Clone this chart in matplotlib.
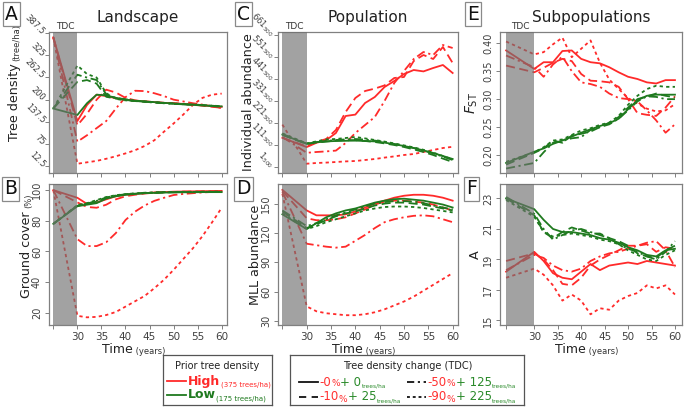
import numpy as np
import matplotlib.pyplot as plt

# time axis (years); subpopulation metrics start one year earlier
years = [25, 30, 32, 34, 36, 38, 40, 42, 44, 46, 48, 50, 52, 54, 56, 58, 60]
years_sub = [24, 30, 32, 34, 36, 38, 40, 42, 44, 46, 48, 50, 52, 54, 56, 58, 60]

# order inside each group: TDC 0%, 10%, 50%, 90%
tree_high = [
    [375, 140, 185, 214, 210, 204, 200, 197, 195, 193, 191, 190, 188, 186, 184, 182, 180],
    [375, 128, 160, 200, 228, 220, 205, 198, 195, 193, 191, 190, 188, 186, 183, 180, 177],
    [375, 82, 100, 120, 140, 175, 207, 225, 224, 218, 210, 200, 195, 190, 186, 181, 176],
    [375, 20, 24, 28, 34, 41, 49, 58, 70, 86, 110, 133, 158, 185, 205, 214, 217],
]
tree_low = [
    [175, 157, 190, 214, 212, 205, 200, 197, 195, 193, 191, 189, 187, 186, 184, 182, 181],
    [175, 250, 255, 245, 208, 203, 199, 196, 194, 192, 190, 189, 187, 185, 184, 182, 180],
    [175, 270, 262, 255, 215, 205, 201, 197, 194, 192, 190, 188, 187, 186, 185, 183, 181],
    [175, 296, 272, 262, 218, 202, 198, 196, 195, 193, 191, 189, 188, 186, 185, 183, 182],
]

cover_high = [
    [100, 95, 91, 92, 94, 96, 97, 97.5, 98, 98.5, 98.7, 99, 99.1, 99.2, 99.3, 99.4, 99.5],
    [100, 92, 89, 88.5, 90.5, 94, 96, 97, 97.8, 98.3, 98.6, 98.8, 99, 99.1, 99.2, 99.3, 99.4],
    [100, 68, 63.5, 63.5, 66, 72, 80.5, 86, 90, 93, 95, 96.8, 97.5, 98, 98.5, 98.8, 99],
    [100, 18, 17, 17.3, 18.5, 20.5, 24, 27.5, 31, 36, 41.5, 48, 55, 62, 70, 79, 88.5],
]
cover_low = [
    [78, 89.5, 90.5, 91.5, 94.5, 96, 97, 97.5, 98, 98.2, 98.4, 98.5, 98.6, 98.6, 98.7, 98.7, 98.7],
    [78, 89.8, 91, 92.5, 95, 96.3, 97.2, 97.7, 98.1, 98.3, 98.5, 98.6, 98.7, 98.7, 98.8, 98.8, 98.8],
    [78, 90, 91.2, 93, 95.2, 96.5, 97.3, 97.8, 98.2, 98.4, 98.6, 98.7, 98.8, 98.8, 98.9, 98.9, 98.9],
    [78, 90.2, 91.5, 93.5, 95.5, 96.7, 97.4, 97.9, 98.3, 98.5, 98.7, 98.8, 98.9, 98.9, 99, 99, 99],
]

abund_high = [
    [146000, 99600, 121000, 134000, 170000, 255000, 262000, 320000, 350000, 400000, 430000, 465000, 485000, 478000, 495000, 510000, 470000],
    [146000, 103000, 125000, 140000, 185000, 275000, 345000, 380000, 392000, 408000, 445000, 450000, 530000, 560000, 540000, 600000, 520000],
    [150000, 71000, 75000, 78000, 82000, 120000, 170000, 210000, 250000, 330000, 420000, 480000, 540000, 575000, 560000, 610000, 595000],
    [212000, 16500, 20000, 22000, 25000, 28000, 30000, 35000, 40000, 47000, 53000, 60000, 65000, 75000, 85000, 95000, 101000],
]
abund_low = [
    [162000, 116000, 125000, 128000, 130000, 131000, 132000, 130000, 128000, 122000, 114000, 105000, 95000, 83000, 70000, 55000, 40000],
    [160000, 115000, 122000, 127000, 132000, 135000, 134000, 130000, 125000, 118000, 110000, 100000, 88000, 75000, 60000, 42000, 25000],
    [165000, 117000, 124000, 130000, 135000, 138000, 140000, 137000, 132000, 125000, 115000, 105000, 95000, 82000, 68000, 52000, 35000],
    [168000, 118000, 128000, 138000, 140000, 145000, 150000, 143000, 135000, 127000, 118000, 108000, 98000, 86000, 72000, 55000, 38000],
]

mll_high = [
    [164, 143, 138, 138, 138, 139, 142, 146, 150, 153, 156, 158, 159, 159, 158, 156, 153],
    [163, 135, 133, 133, 134, 136, 140, 144, 149, 152, 153, 153, 152, 151, 149, 146, 143],
    [162, 109, 107.5, 106, 105, 106, 112, 118, 125, 131, 134, 136, 137.5, 138, 137, 134, 131],
    [160, 45, 40, 38, 37, 36, 36, 37, 39, 42, 46, 50, 55, 61, 67, 73, 79],
]
mll_low = [
    [139, 124, 130, 136, 140, 143, 145, 148, 151, 153, 154.5, 155, 154, 153, 151, 149, 146],
    [142, 125, 129, 133, 137, 140, 142, 145, 148, 150, 151, 151, 150, 149, 147, 145, 143],
    [143, 127, 130, 134, 138, 141, 144, 147, 150, 151.5, 152.5, 152.5, 152, 150.5, 148, 146, 144],
    [140, 124, 127, 131, 134, 137, 140, 143, 145, 146.5, 147, 147, 146.5, 145.5, 144, 142.5, 141],
]

fst_high = [
    [0.387, 0.354, 0.366, 0.366, 0.386, 0.387, 0.372, 0.366, 0.364, 0.357, 0.348, 0.340, 0.336, 0.330, 0.328, 0.334, 0.334],
    [0.360, 0.348, 0.356, 0.365, 0.372, 0.368, 0.345, 0.333, 0.332, 0.330, 0.322, 0.300, 0.275, 0.272, 0.270, 0.285, 0.305],
    [0.378, 0.357, 0.340, 0.362, 0.376, 0.350, 0.330, 0.327, 0.322, 0.310, 0.302, 0.300, 0.296, 0.280, 0.262, 0.240, 0.255],
    [0.403, 0.380, 0.384, 0.398, 0.410, 0.375, 0.390, 0.405, 0.365, 0.335, 0.318, 0.302, 0.292, 0.283, 0.278, 0.280, 0.291],
]
fst_low = [
    [0.186, 0.206, 0.212, 0.220, 0.226, 0.233, 0.240, 0.246, 0.252, 0.257, 0.265, 0.282, 0.298, 0.306, 0.308, 0.308, 0.308],
    [0.183, 0.204, 0.212, 0.226, 0.222, 0.235, 0.238, 0.242, 0.250, 0.258, 0.268, 0.285, 0.300, 0.305, 0.310, 0.306, 0.303],
    [0.176, 0.186, 0.205, 0.222, 0.225, 0.230, 0.232, 0.245, 0.250, 0.255, 0.265, 0.280, 0.296, 0.305, 0.304, 0.300, 0.300],
    [0.188, 0.205, 0.214, 0.226, 0.228, 0.236, 0.244, 0.248, 0.254, 0.258, 0.270, 0.290, 0.306, 0.318, 0.324, 0.322, 0.322],
]

rich_high = [
    [18.2, 19.5, 18.9, 18.1, 17.8, 17.7, 18.2, 18.7, 18.3, 18.6, 18.7, 18.8, 18.7, 18.9, 18.8, 18.7, 18.6],
    [18.9, 19.4, 19.0, 18.3, 17.4, 17.3, 17.8, 18.6, 19.0, 19.3, 19.6, 19.9, 19.9, 20.0, 19.5, 19.8, 19.7],
    [18.3, 19.3, 19.1, 18.6, 18.3, 18.2, 18.4, 18.9, 19.2, 19.4, 19.5, 19.7, 19.9, 20.1, 20.2, 19.6, 18.5],
    [17.8, 18.4, 18.0, 17.3, 16.3, 16.7, 16.3, 15.4, 15.8, 15.7, 16.3, 16.6, 16.8, 17.3, 17.1, 17.3, 16.7],
]
rich_low = [
    [23.0, 22.3, 21.6, 21.0, 20.8, 20.8, 20.7, 20.6, 20.4, 20.3, 20.1, 19.8, 19.6, 19.3, 19.2, 19.6, 19.7],
    [23.0, 21.9, 20.8, 20.4, 20.8, 21.1, 20.9, 20.7, 20.7, 20.4, 20.2, 19.9, 19.4, 19.2, 19.1, 19.6, 19.9],
    [23.1, 22.0, 21.0, 20.3, 20.6, 20.9, 21.0, 20.8, 20.6, 20.4, 20.0, 19.7, 19.5, 19.2, 19.0, 19.5, 20.2],
    [22.9, 21.8, 20.8, 20.5, 20.6, 20.7, 20.6, 20.5, 20.3, 20.2, 20.0, 19.6, 19.3, 19.0, 18.9, 19.3, 19.6],
]

tree_ticks = [12.5, 75, 137.5, 200, 262.5, 325, 387.5]
abund_ticks = [1500, 111500, 221500, 331500, 441500, 551500, 661500]

RED = '#ff2a2a'
GREEN = '#1f7a1f'
GREY = '#707070'
styles = ['-', (0, (5, 2.5)), (0, (5, 2, 1.2, 2)), (0, (1.8, 1.8))]

plt.rcParams['font.family'] = 'DejaVu Sans'
fig = plt.figure(figsize=(6.85, 4.08), dpi=100)

W, H = 685.0, 408.0


def make_ax(x0, x1, y0, y1):
    return fig.add_axes([x0 / W, 1 - y1 / H, (x1 - x0) / W, (y1 - y0) / H])


def draw_panel(ax, t, high, low, tdc_start, xlim, ylim):
    for vals, ls in zip(high, styles):
        ax.plot(t, vals, color=RED, ls=ls, lw=1.3, zorder=2)
    for vals, ls in zip(low, styles):
        ax.plot(t, vals, color=GREEN, ls=ls, lw=1.3, zorder=2)
    ax.axvspan(tdc_start, 30, color=GREY, alpha=0.65, lw=0, zorder=3)
    ax.set_xlim(*xlim)
    ax.set_ylim(*ylim)
    for s in ax.spines.values():
        s.set_color('#808080')
        s.set_linewidth(0.9)
    ax.tick_params(colors='#808080', labelcolor='#404040', length=3, width=0.7,
                   labelsize=7, pad=2)
    ax.set_xticks([tdc_start, 30, 35, 40, 45, 50, 55, 60])


xl_main = (24.1, 61.1)
xl_sub = (22.7, 61.5)

axA = make_ax(49, 227, 32, 173)
axB = make_ax(49, 227, 184, 325)
axC = make_ax(278, 458, 32, 173)
axD = make_ax(278, 458, 184, 325)
axE = make_ax(500, 682, 32, 173)
axF = make_ax(500, 682, 184, 325)

draw_panel(axA, years, tree_high, tree_low, 25, xl_main, (-6, 390))
draw_panel(axB, years, cover_high, cover_low, 25, xl_main, (12, 104))
draw_panel(axC, years, abund_high, abund_low, 25, xl_main, (-30000, 675000))
draw_panel(axD, years, mll_high, mll_low, 25, xl_main, (26, 170))
draw_panel(axE, years_sub, fst_high, fst_low, 24, xl_sub, (0.168, 0.42))
draw_panel(axF, years_sub, rich_high, rich_low, 24, xl_sub, (14.7, 23.95))

# x tick labels only on the bottom row
for ax in (axA, axC, axE):
    ax.set_xticklabels([])
for ax in (axB, axD, axF):
    ax.set_xticklabels([''] + ['30', '35', '40', '45', '50', '55', '60'], fontsize=7.5)

# y ticks
axA.set_yticks(tree_ticks)
axA.set_yticklabels([f'{v:g}' for v in tree_ticks], rotation=-45, ha='right', va='center',
                    rotation_mode='anchor', fontsize=6)
axC.set_yticks(abund_ticks)
axC.set_yticklabels([r'%d$_{\mathregular{500}}$' % (v // 1000) for v in abund_ticks],
                    rotation=-45, ha='right', va='center', rotation_mode='anchor', fontsize=6)
axA.tick_params(axis='y', pad=1)
axC.tick_params(axis='y', pad=1)
axB.set_yticks([20, 40, 60, 80, 100])
axD.set_yticks([30, 60, 90, 120, 150])
axE.set_yticks([0.20, 0.25, 0.30, 0.35, 0.40])
axE.set_yticklabels(['0.20', '0.25', '0.30', '0.35', '0.40'])
axF.set_yticks([15, 17, 19, 21, 23])
for ax in (axB, axD, axE, axF):
    for lab in ax.get_yticklabels():
        lab.set_rotation(90)
        lab.set_va('center')


def ylabel_with_unit(ax, main, unit, xpos):
    lab = ax.set_ylabel(main, fontsize=9.2, color='#222222')
    ax.yaxis.set_label_coords(xpos, 0.5)
    if unit:
        ax.annotate(unit, xy=(1, 1), xycoords=lab, xytext=(0, 2), textcoords='offset points',
                    rotation=90, ha='right', va='bottom', fontsize=6, color='#333333')


ylabel_with_unit(axA, 'Tree density', '(tree/ha)', -0.155)
ylabel_with_unit(axB, 'Ground cover', '(%)', -0.09)
ylabel_with_unit(axC, 'Individual abundance', None, -0.128)
ylabel_with_unit(axD, 'MLL abundance', None, -0.089)
axE.set_ylabel(r'$F_{\mathregular{ST}}$', fontsize=10, color='#222222')
axE.yaxis.set_label_coords(-0.11, 0.5)
axF.set_ylabel('A', fontsize=9.2, color='#222222')
axF.yaxis.set_label_coords(-0.1, 0.5)

# titles and TDC labels
for ax, title in ((axA, 'Landscape'), (axC, 'Population'), (axE, 'Subpopulations')):
    ax.set_title(title, fontsize=11, color='#222222', pad=7)
for ax, start in ((axA, 25), (axC, 25), (axE, 24)):
    ax.text((start + 30) / 2, 1.005, 'TDC', transform=ax.get_xaxis_transform(),
            ha='center', va='bottom', fontsize=6.5, color='#333333')

# x labels "Time (years)"
for ax in (axB, axD, axF):
    t = ax.text(0.47, -0.2, 'Time', transform=ax.transAxes, ha='right', va='baseline',
                fontsize=9, color='#222222')
    ax.annotate(' (years)', xy=(1, 0), xycoords=t, ha='left', va='bottom',
                fontsize=6, color='#333333')

# panel letters
letters = [('A', 5, 14), ('B', 4, 189), ('C', 237, 14), ('D', 236, 189), ('E', 467, 14), ('F', 466, 189)]
for s, x, y in letters:
    fig.text(x / W, 1 - y / H, s, fontsize=13.5, va='center', ha='left', color='#111111',
             bbox=dict(boxstyle='square,pad=0.12', fc='white', ec='#8a8a8a', lw=0.9))


# legends
def legend_box(x0, x1, y0, y1):
    ax = make_ax(x0, x1, y0, y1)
    ax.set_xlim(x0, x1)
    ax.set_ylim(y1, y0)
    ax.set_xticks([])
    ax.set_yticks([])
    for s in ax.spines.values():
        s.set_color('#555555')
        s.set_linewidth(0.9)
    return ax


def chain(ax, x, y, parts):
    s, c, fs, fw = parts[0]
    t = ax.text(x, y, s, color=c, fontsize=fs, fontweight=fw, va='center', ha='left')
    for s, c, fs, fw in parts[1:]:
        t = ax.annotate(s, xy=(1, 0), xycoords=t, xytext=(0.3, 0), textcoords='offset points',
                        color=c, fontsize=fs, fontweight=fw, va='bottom', ha='left')
    return t


LRED = '#ff3030'
LGREEN = '#2a8a2a'

lg1 = legend_box(163, 272, 355, 405)
lg1.text(217, 366, 'Prior tree density', ha='center', va='center', fontsize=7, color='#222222')
lg1.plot([167, 186], [381, 381], color=RED, lw=1.3)
lg1.plot([167, 186], [395, 395], color=GREEN, lw=1.3)
chain(lg1, 188, 381, [('High', RED, 9, 'bold'), ('(375 trees/ha)', RED, 5, 'normal')])
chain(lg1, 188, 395, [('Low', GREEN, 9, 'bold'), ('(175 trees/ha)', GREEN, 5, 'normal')])

lg2 = legend_box(290, 524, 355, 405)
lg2.text(408, 366, 'Tree density change (TDC)', ha='center', va='center', fontsize=7, color='#222222')
rows = [
    (299, 382, '-', '-0', '+ 0'),
    (299, 397, (0, (4, 3)), '-10', '+ 25'),
    (407, 382, (0, (4, 2, 1.2, 2)), '-50', '+ 125'),
    (407, 397, (0, (1.6, 1.6)), '-90', '+ 225'),
]
for x, y, ls, minus, plus in rows:
    lg2.plot([x, x + 19], [y, y], color='#111111', lw=1.3, ls=ls)
    chain(lg2, x + 20, y, [(minus, LRED, 8.5, 'normal'), ('%', LRED, 6.5, 'normal'),
                           (plus, LGREEN, 8.5, 'normal'), ('trees/ha', LGREEN, 4.2, 'normal')])

fig.savefig('out.png', dpi=100)
